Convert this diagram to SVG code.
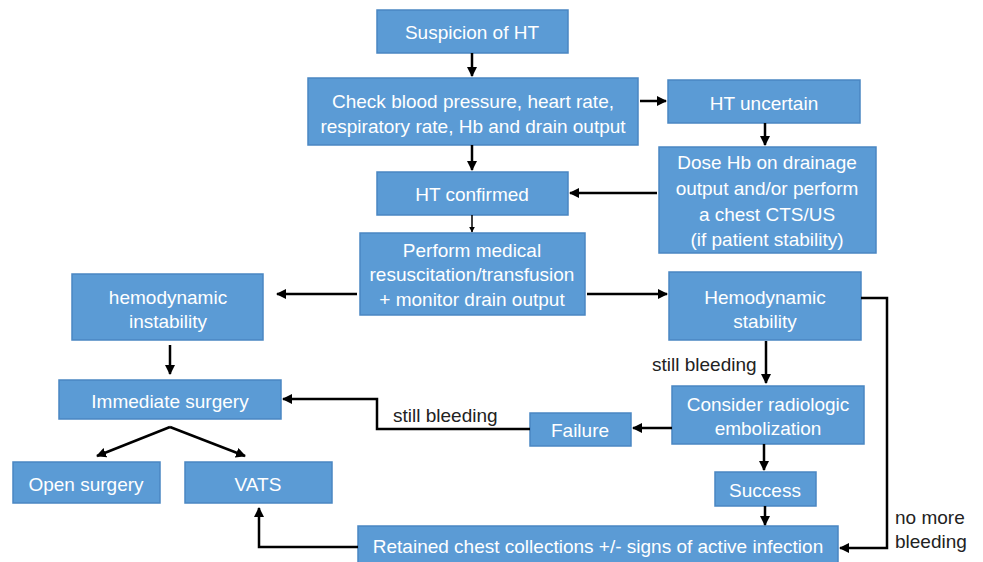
<svg xmlns="http://www.w3.org/2000/svg" width="983" height="562" viewBox="0 0 983 562">
<defs>
<marker id="ah" viewBox="0 0 10 10" refX="9" refY="5" markerWidth="4" markerHeight="4" orient="auto-start-reverse" markerUnits="strokeWidth">
<path d="M0,0 L10,5 L0,10 z" fill="#000"/>
</marker>
<style>
.box{fill:#5B9BD5;stroke:#4A86C2;stroke-width:1.5}
.t{font-family:"Liberation Sans",Arial,sans-serif;font-size:19px;fill:#fff;text-anchor:middle}
.l{font-family:"Liberation Sans",Arial,sans-serif;font-size:19px;fill:#222}
.c{fill:none;stroke:#000;stroke-width:2.5;marker-end:url(#ah)}
</style>
</defs>
<rect width="983" height="562" fill="#fff"/>
<g id="suspicion"><rect class="box" x="377" y="10" width="191" height="43"/><text class="t" x="472" y="39">Suspicion of HT</text></g>
<g id="check"><rect class="box" x="308" y="78" width="330" height="67"/><text class="t" x="473" y="108">Check blood pressure, heart rate,</text><text class="t" x="473" y="133">respiratory rate, Hb and drain output</text></g>
<g id="uncertain"><rect class="box" x="668" y="80" width="192" height="43"/><text class="t" x="764" y="110">HT uncertain</text></g>
<g id="dose"><rect class="box" x="659" y="147" width="217" height="106"/><text class="t" x="767" y="169">Dose Hb on drainage</text><text class="t" x="767" y="195">output and/or perform</text><text class="t" x="767" y="221">a chest CTS/US</text><text class="t" x="767" y="246">(if patient stability)</text></g>
<g id="confirmed"><rect class="box" x="377" y="172" width="191" height="43"/><text class="t" x="472" y="201">HT confirmed</text></g>
<g id="perform"><rect class="box" x="360" y="233" width="225" height="82"/><text class="t" x="472" y="257">Perform medical</text><text class="t" x="472" y="281">resuscitation/transfusion</text><text class="t" x="472" y="306">+ monitor drain output</text></g>
<g id="instability"><rect class="box" x="72" y="274" width="191" height="66"/><text class="t" x="168" y="304">hemodynamic</text><text class="t" x="168" y="328">instability</text></g>
<g id="stability"><rect class="box" x="669" y="272" width="192" height="68"/><text class="t" x="765" y="304">Hemodynamic</text><text class="t" x="765" y="328">stability</text></g>
<g id="immediate"><rect class="box" x="59" y="380" width="222" height="39"/><text class="t" x="170" y="408">Immediate surgery</text></g>
<g id="open"><rect class="box" x="13" y="462" width="147" height="41"/><text class="t" x="86" y="491">Open surgery</text></g>
<g id="vats"><rect class="box" x="185" y="462" width="147" height="41"/><text class="t" x="258" y="491">VATS</text></g>
<g id="failure"><rect class="box" x="530" y="413" width="101" height="33"/><text class="t" x="580" y="437">Failure</text></g>
<g id="embolization"><rect class="box" x="672" y="386" width="192" height="58"/><text class="t" x="768" y="411">Consider radiologic</text><text class="t" x="768" y="435">embolization</text></g>
<g id="success"><rect class="box" x="715" y="472" width="101" height="34"/><text class="t" x="765" y="497">Success</text></g>
<g id="retained"><rect class="box" x="358" y="526" width="480" height="40"/><text class="t" x="598" y="553">Retained chest collections +/- signs of active infection</text></g>
<g id="connectors">
<line class="c" x1="472" y1="53" x2="472" y2="76"/>
<line class="c" x1="640" y1="101" x2="666" y2="101"/>
<line class="c" x1="765" y1="123" x2="765" y2="145"/>
<line class="c" x1="472" y1="145" x2="472" y2="170"/>
<line class="c" x1="657" y1="193" x2="570" y2="193"/>
<line class="c" x1="472" y1="215" x2="472" y2="232" style="stroke-width:1.5"/>
<line class="c" x1="357" y1="294" x2="277" y2="294"/>
<line class="c" x1="587" y1="294" x2="667" y2="294"/>
<line class="c" x1="170" y1="345" x2="170" y2="374"/>
<polyline class="c" points="170,427 97,456"/>
<polyline class="c" points="170,427 245,456"/>
<polyline class="c" points="530,429 377,429 377,399 283,399"/>
<line class="c" x1="766" y1="341" x2="766" y2="383"/>
<line class="c" x1="672" y1="428" x2="633" y2="428"/>
<line class="c" x1="764" y1="444" x2="764" y2="470"/>
<line class="c" x1="765" y1="506" x2="765" y2="525"/>
<polyline class="c" points="861,298 887,298 887,548 840,548"/>
<polyline class="c" points="358,547 259,547 259,508"/>
<text class="l" x="652" y="371">still bleeding</text>
<text class="l" x="393" y="422">still bleeding</text>
<text class="l" x="895" y="524">no more</text>
<text class="l" x="895" y="548">bleeding</text>
</g>
</svg>
